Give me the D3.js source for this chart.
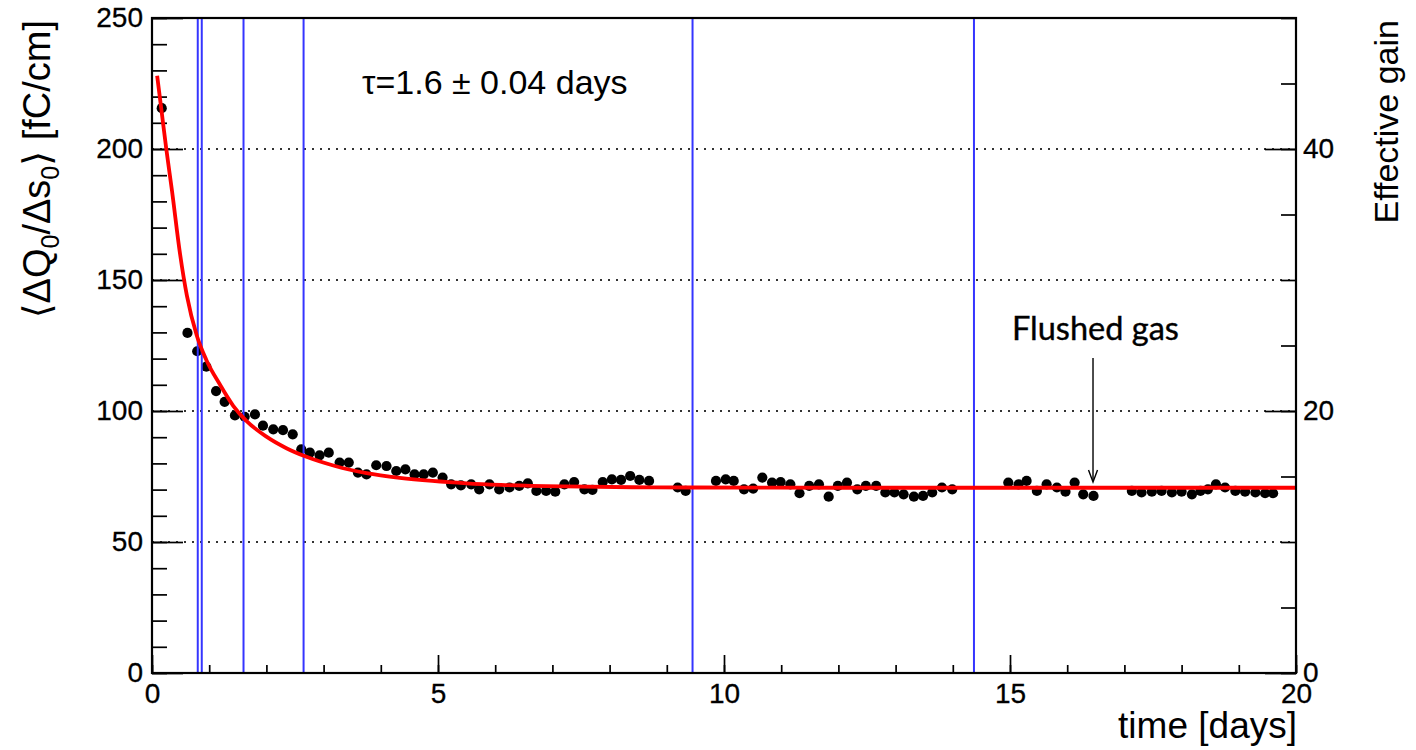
<!DOCTYPE html>
<html>
<head>
<meta charset="utf-8">
<script src="https://cdn.jsdelivr.net/npm/d3@7"></script>
<style>
  body { margin: 0; background: #fff; }
  svg { display: block; }
</style>
</head>
<body>
<svg id="chart" width="1416" height="750"></svg>
<script>
// measured charge per unit length, one point every ~4 hours
var timeDays = [0.17, 0.62, 0.79, 0.95, 1.12, 1.27, 1.45, 1.62, 1.80, 1.94, 2.12, 2.29, 2.46, 2.61, 2.76, 2.93,
    3.09, 3.28, 3.44, 3.60, 3.75, 3.92, 4.10, 4.27, 4.43, 4.59, 4.75, 4.91, 5.08, 5.23, 5.40, 5.58, 5.72, 5.90,
    6.07, 6.25, 6.42, 6.57, 6.72, 6.89, 7.05, 7.21, 7.38, 7.56, 7.70, 7.88, 8.04, 8.20, 8.36, 8.52, 8.69,
    9.19, 9.33, 9.86, 10.03, 10.17, 10.35, 10.51, 10.67, 10.84, 10.99, 11.16, 11.32, 11.49, 11.66, 11.83, 11.99,
    12.15, 12.33, 12.48, 12.66, 12.82, 12.98, 13.14, 13.32, 13.48, 13.64, 13.81, 13.99,
    14.97, 15.15, 15.29, 15.47, 15.64, 15.82, 15.97, 16.13, 16.28, 16.46,
    17.13, 17.30, 17.48, 17.65, 17.83, 18.00, 18.18, 18.33, 18.46, 18.60, 18.76, 18.94, 19.11, 19.29, 19.46, 19.60];
var chargeValues = [215.6, 129.8, 122.8, 116.9, 107.6, 103.5, 98.3, 97.8, 98.7, 94.4, 93.0, 92.7, 91.1, 85.4, 84.1, 83.1,
    84.1, 80.3, 80.3, 76.5, 75.8, 79.3, 79.0, 77.1, 77.7, 75.8, 75.8, 76.5, 74.6, 72.0, 71.6, 72.0, 70.1, 72.0,
    70.1, 70.8, 71.4, 72.4, 69.5, 69.5, 69.2, 72.0, 72.9, 70.1, 69.9, 72.9, 73.9, 73.7, 75.2, 73.7, 73.3,
    70.8, 69.5, 73.3, 73.9, 73.3, 70.1, 70.4, 74.6, 72.7, 72.9, 72.0, 68.6, 71.4, 72.0, 67.3, 71.4,
    72.7, 70.1, 71.4, 71.4, 68.9, 68.9, 68.2, 67.3, 67.6, 68.9, 70.8, 70.1,
    72.7, 72.0, 73.3, 69.5, 72.0, 70.8, 69.2, 72.7, 68.2, 67.6,
    69.5, 68.9, 69.2, 69.5, 68.9, 69.2, 68.2, 69.5, 70.1, 72.0, 70.8, 69.5, 69.2, 68.9, 68.6, 68.6];

// fitted curve
var fitTime = [0.09, 0.17, 0.25, 0.35, 0.49, 0.61, 0.78, 0.95, 1.19, 1.42, 1.65, 2.0, 2.35, 2.7, 3.2, 3.75,
    4.33, 4.9, 5.5, 6.1, 7.2, 8.4, 9.5, 12, 20];
var fitValues = [228, 214, 200, 184, 160, 144, 129, 119.5, 110, 102, 96.2, 90.2, 85.8, 82.5, 79.0, 76.3,
    74.5, 73.3, 72.4, 71.8, 71.2, 70.9, 70.8, 70.7, 70.7];

// vertical markers (days)
var markerTimes = [0.80, 0.87, 1.60, 2.65, 9.45, 14.37];

var xMajorTicks = [0, 5, 10, 15, 20];
var yMajorTicks = [0, 50, 100, 150, 200, 250];
var gainMajorTicks = [0, 20, 40];
var gridValues = [50, 100, 150, 200];

var fitLabel = "τ=1.6 ± 0.04 days";
var flushLabel = "Flushed gas";
var flushTime = 16.46;

var svg = d3.select("#chart");
var frameL = 152, frameT = 18, frameR = 1296, frameB = 673;
var font = "'Liberation Sans', Arial, Helvetica, sans-serif";

var x = d3.scaleLinear().domain([0, 20]).range([frameL, frameR]);
var y = d3.scaleLinear().domain([0, 250]).range([frameB, frameT]);
var yGain = d3.scaleLinear().domain([0, 50]).range([frameB, frameT]);

// dotted grid
svg.append("g").selectAll("line")
    .data(gridValues)
    .enter().append("line")
    .attr("x1", frameL).attr("x2", frameR)
    .attr("y1", d => y(d)).attr("y2", d => y(d))
    .attr("stroke", "#333")
    .attr("stroke-width", 1.8)
    .attr("stroke-dasharray", "2,6");

function styleAxis(g) {
    g.select(".domain").remove();
    g.selectAll("line").attr("stroke", "#000").attr("stroke-width", 1.7);
    g.selectAll("text")
        .attr("font-family", font)
        .attr("font-size", 28)
        .attr("fill", "#000")
        .attr("stroke", "#000")
        .attr("stroke-width", 0.3);
}

// minor ticks first, majors on top
svg.append("g")
    .attr("transform", "translate(0," + frameB + ")")
    .call(d3.axisBottom(x).tickValues(d3.range(0, 21, 1)).tickSize(-8).tickFormat(""))
    .call(styleAxis);
svg.append("g")
    .attr("transform", "translate(0," + frameB + ")")
    .call(d3.axisBottom(x).tickValues(xMajorTicks).tickSize(-18).tickPadding(10).tickFormat(d3.format("d")))
    .call(styleAxis);

svg.append("g")
    .attr("transform", "translate(" + frameL + ",0)")
    .call(d3.axisLeft(y).tickValues(d3.range(0, 251, 10)).tickSize(-15).tickFormat(""))
    .call(styleAxis);
svg.append("g")
    .attr("transform", "translate(" + frameL + ",0)")
    .call(d3.axisLeft(y).tickValues(yMajorTicks).tickSize(-31).tickPadding(9).tickFormat(d3.format("d")))
    .call(styleAxis);

svg.append("g")
    .attr("transform", "translate(" + frameR + ",0)")
    .call(d3.axisRight(yGain).tickValues(d3.range(0, 51, 5)).tickSize(-15).tickFormat(""))
    .call(styleAxis);
svg.append("g")
    .attr("transform", "translate(" + frameR + ",0)")
    .call(d3.axisRight(yGain).tickValues(gainMajorTicks).tickSize(-31).tickPadding(7).tickFormat(d3.format("d")))
    .call(styleAxis);

// data points
var points = timeDays.map((t, i) => ({t: t, v: chargeValues[i]}));
svg.append("g").selectAll("circle")
    .data(points)
    .enter().append("circle")
    .attr("cx", d => x(d.t))
    .attr("cy", d => y(d.v))
    .attr("r", 5.1)
    .attr("fill", "#000");

// blue markers
svg.append("g").selectAll("line")
    .data(markerTimes)
    .enter().append("line")
    .attr("x1", d => x(d)).attr("x2", d => x(d))
    .attr("y1", frameT).attr("y2", frameB)
    .attr("stroke", "#3535ff")
    .attr("stroke-width", 2);

// fit
var fitLine = d3.line()
    .x(d => x(d[0]))
    .y(d => y(d[1]))
    .curve(d3.curveMonotoneX);
svg.append("path")
    .datum(fitTime.map((t, i) => [t, fitValues[i]]))
    .attr("d", fitLine)
    .attr("fill", "none")
    .attr("stroke", "#ff0000")
    .attr("stroke-width", 3.8);

// frame
svg.append("rect")
    .attr("x", frameL).attr("y", frameT)
    .attr("width", frameR - frameL).attr("height", frameB - frameT)
    .attr("fill", "none")
    .attr("stroke", "#000")
    .attr("stroke-width", 2.2);

// annotations
svg.append("text")
    .attr("x", 362).attr("y", 94)
    .attr("font-family", font)
    .attr("font-size", 34)
    .text(fitLabel);

var ax = x(flushTime) - 0.5;
svg.append("text")
    .attr("x", 1012).attr("y", 340)
    .attr("font-family", "Lato, 'Open Sans', sans-serif")
    .attr("font-size", 32.5)
    .attr("stroke", "#000")
    .attr("stroke-width", 0.4)
    .text(flushLabel);
svg.append("line")
    .attr("x1", ax).attr("x2", ax)
    .attr("y1", 358).attr("y2", 481)
    .attr("stroke", "#000").attr("stroke-width", 1.4);
svg.append("path")
    .attr("d", "M" + (ax - 4.5) + ",470 L" + ax + ",482 L" + (ax + 4.5) + ",470")
    .attr("fill", "none")
    .attr("stroke", "#000").attr("stroke-width", 1.4);

// axis titles
svg.append("text")
    .attr("x", 1297).attr("y", 738)
    .attr("text-anchor", "end")
    .attr("font-family", font)
    .attr("font-size", 37)
    .text("time [days]");

var yTitle = svg.append("text")
    .attr("transform", "translate(50,20) rotate(-90)")
    .attr("text-anchor", "end")
    .attr("font-family", font)
    .attr("font-size", 38);
yTitle.append("tspan").attr("font-family", "'DejaVu Sans', sans-serif").text("\u27E8");
yTitle.append("tspan").text("ΔQ");
yTitle.append("tspan").attr("font-size", 25).attr("dy", 9).text("0");
yTitle.append("tspan").attr("dy", -9).text("/Δs");
yTitle.append("tspan").attr("font-size", 25).attr("dy", 9).text("0");
yTitle.append("tspan").attr("dy", -9).attr("font-family", "'DejaVu Sans', sans-serif").text("\u27E9");
yTitle.append("tspan").text(" [fC/cm]");

svg.append("text")
    .attr("transform", "translate(1398,20) rotate(-90)")
    .attr("text-anchor", "end")
    .attr("font-family", font)
    .attr("font-size", 34)
    .text("Effective gain");
</script>
</body>
</html>
